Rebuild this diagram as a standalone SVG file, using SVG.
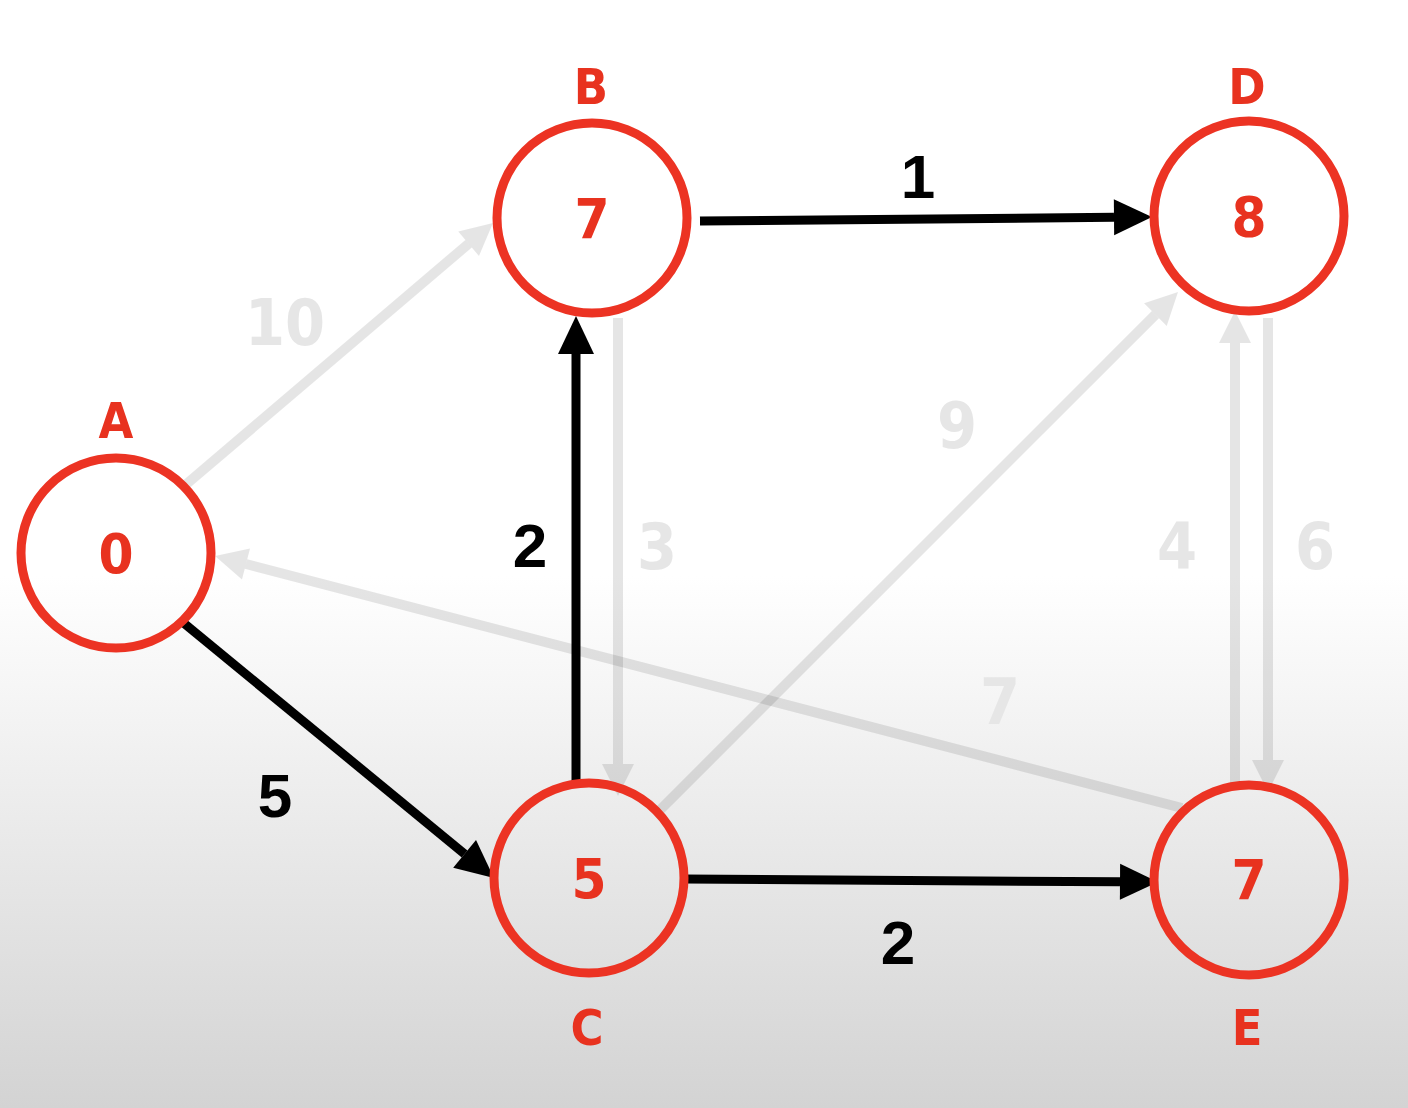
<svg xmlns="http://www.w3.org/2000/svg" width="1408" height="1108" viewBox="0 0 1408 1108">
<defs>
<linearGradient id="bg" x1="0" y1="0" x2="0" y2="1">
<stop offset="0" stop-color="#ffffff"/>
<stop offset="0.52" stop-color="#ffffff"/>
<stop offset="1" stop-color="#d3d3d3"/>
</linearGradient>
<marker id="ab" markerUnits="userSpaceOnUse" markerWidth="40" markerHeight="38" refX="0" refY="18" orient="auto" overflow="visible">
<path d="M0,0 L38,18 L0,36 Z" fill="#000"/>
</marker>
<marker id="ag" markerUnits="userSpaceOnUse" markerWidth="34" markerHeight="34" refX="0" refY="16" orient="auto" overflow="visible">
<path d="M0,0 L32,16 L0,32 Z" fill="#000" fill-opacity="0.1"/>
</marker>
<style>
.eb{stroke:#000;stroke-width:9;fill:none}
.eg{stroke:#000;stroke-opacity:0.1;stroke-width:10;fill:none}
.nc{fill:none;stroke:#ec3323;stroke-width:9}
.nl{fill:#e8321f;font-family:"DejaVu Sans Condensed","DejaVu Sans",sans-serif;font-stretch:condensed;font-weight:bold;font-size:50px;text-anchor:middle}
.nv{fill:#e8321f;font-family:"DejaVu Sans Condensed","DejaVu Sans",sans-serif;font-stretch:condensed;font-weight:bold;font-size:56px;text-anchor:middle}
.wb{fill:#000;font-family:"Liberation Sans",Arial,sans-serif;font-weight:bold;font-size:62px;text-anchor:middle}
.wg{fill:#e6e6e6;font-family:"DejaVu Sans Condensed","DejaVu Sans",sans-serif;font-stretch:condensed;font-weight:bold;font-size:64px;text-anchor:middle}
</style>
</defs>
<rect width="1408" height="1108" fill="url(#bg)"/>
<g id="connectors">
<line class="eg" x1="183" y1="487" x2="468.6" y2="243.7" marker-end="url(#ag)"/>
<line class="eg" x1="618" y1="318" x2="618" y2="764" marker-end="url(#ag)"/>
<line class="eg" x1="660" y1="810" x2="1155.4" y2="314.6" marker-end="url(#ag)"/>
<line class="eg" x1="1235" y1="784" x2="1235" y2="343" marker-end="url(#ag)"/>
<line class="eg" x1="1268" y1="318" x2="1268" y2="760" marker-end="url(#ag)"/>
<line class="eg" x1="1182" y1="808" x2="246" y2="564" marker-end="url(#ag)"/>
<line class="eb" x1="700" y1="221" x2="1114" y2="217.3" marker-end="url(#ab)"/>
<line class="eb" x1="180" y1="620" x2="464.6" y2="853.9" marker-end="url(#ab)"/>
<line class="eb" x1="576" y1="783" x2="576" y2="354" marker-end="url(#ab)"/>
<line class="eb" x1="684" y1="879" x2="1120" y2="881.8" marker-end="url(#ab)"/>
<text class="wg" x="285" y="345">10</text>
<text class="wg" x="657" y="569">3</text>
<text class="wg" x="957" y="448">9</text>
<text class="wg" x="1177" y="569">4</text>
<text class="wg" x="1315" y="569">6</text>
<text class="wg" x="1000" y="724">7</text>
<text class="wb" x="918" y="198">1</text>
<text class="wb" x="530" y="567">2</text>
<text class="wb" x="275" y="817">5</text>
<text class="wb" x="898" y="964">2</text>
</g>
<g id="node-A">
<circle class="nc" cx="116" cy="553" r="95"/>
<text class="nl" x="116" y="438">A</text>
<text class="nv" x="116" y="573">0</text>
</g>
<g id="node-B">
<circle class="nc" cx="592" cy="218" r="95"/>
<text class="nl" x="591" y="104">B</text>
<text class="nv" x="592" y="238">7</text>
</g>
<g id="node-D">
<circle class="nc" cx="1249" cy="216" r="95"/>
<text class="nl" x="1247" y="104">D</text>
<text class="nv" x="1249" y="236">8</text>
</g>
<g id="node-C">
<circle class="nc" cx="589" cy="878" r="95"/>
<text class="nl" x="587" y="1045">C</text>
<text class="nv" x="589" y="898">5</text>
</g>
<g id="node-E">
<circle class="nc" cx="1249" cy="880" r="95"/>
<text class="nl" x="1247" y="1045">E</text>
<text class="nv" x="1249" y="899">7</text>
</g>
</svg>
